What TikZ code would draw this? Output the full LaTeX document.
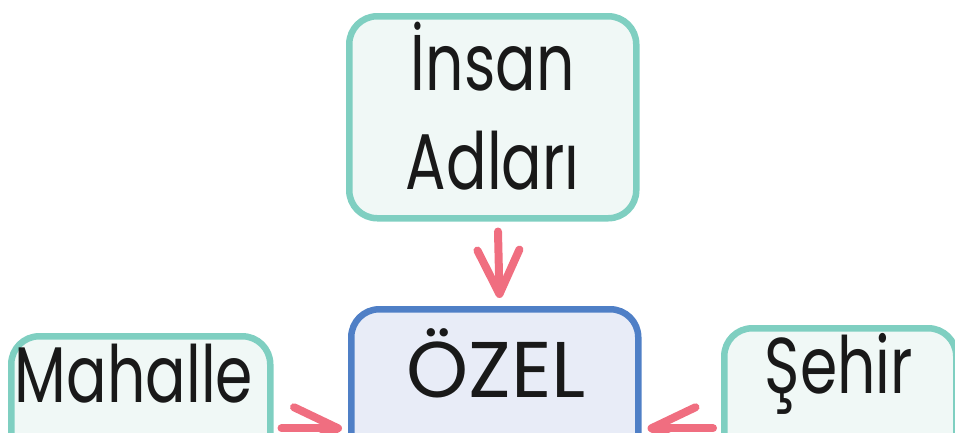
\documentclass[tikz,border=0pt]{standalone}
\usepackage{fontspec}
\setmainfont[FakeStretch=0.76]{Poppins}
\newfontfamily\genisyazi{Poppins}
\usetikzlibrary{positioning, arrows.meta}

\definecolor{tealline}{HTML}{7FCFC1}
\definecolor{tealfill}{HTML}{F0F8F6}
\definecolor{blueline}{HTML}{4F7FC6}
\definecolor{bluefill}{HTML}{E8ECF7}
\definecolor{pinkarrow}{HTML}{F06E80}

\tikzset{
  kutu/.style={draw=tealline, fill=tealfill, line width=6.5pt, rounded corners=28pt, inner sep=0pt},
  ozelkutu/.style={kutu, draw=blueline, fill=bluefill},
  yazi/.style={font=\fontsize{79}{99}\selectfont, text=black!90, align=center, inner sep=0pt},
  ok/.style={draw=pinkarrow, line width=8pt, line cap=round, -{Straight Barb[length=44pt, width=42pt, round]}}
}

\begin{document}
\begin{tikzpicture}[x=1pt,y=-1pt]
      \useasboundingbox (0,0) rectangle (955,432);
      \clip (0,0) rectangle (955,432);
      % kutular
      \node[kutu, minimum width=287pt, minimum height=202pt, anchor=north west] (insan) at (346,13) {};
      \node[ozelkutu, minimum width=287pt, minimum height=238pt, anchor=north west] (ozel) at (348,306) {};
      \node[kutu, minimum width=259pt, minimum height=184pt, anchor=north west] (mahalle) at (8,333) {};
      \node[kutu, minimum width=232pt, minimum height=200pt, anchor=north west] (sehir) at (721,325) {};
      % yazilar
      \node[yazi] (insanyazi) at ([yshift=11pt]insan.center) {İnsan\\Adları};
      \node[yazi, font=\fontsize{79}{99}\genisyazi, anchor=base] (ozelyazi) at (496,397) {ÖZEL};
      \node[yazi, anchor=base] (mahalleyazi) at (134,402) {Mahalle};
      \node[yazi, anchor=base] (sehiryazi) at (839,393) {Şehir};
      % oklar
      \draw[ok, shorten <=10pt, shorten >=8pt] ([xshift=5pt]insan.south) -- ([xshift=5pt]ozel.north);
      \draw[ok, shorten <=8pt, shorten >=6pt] (mahalle) -- (ozel);
      \draw[ok, shorten <=8pt, shorten >=6pt] (sehir) -- (ozel);
    \end{tikzpicture}
\end{document}
